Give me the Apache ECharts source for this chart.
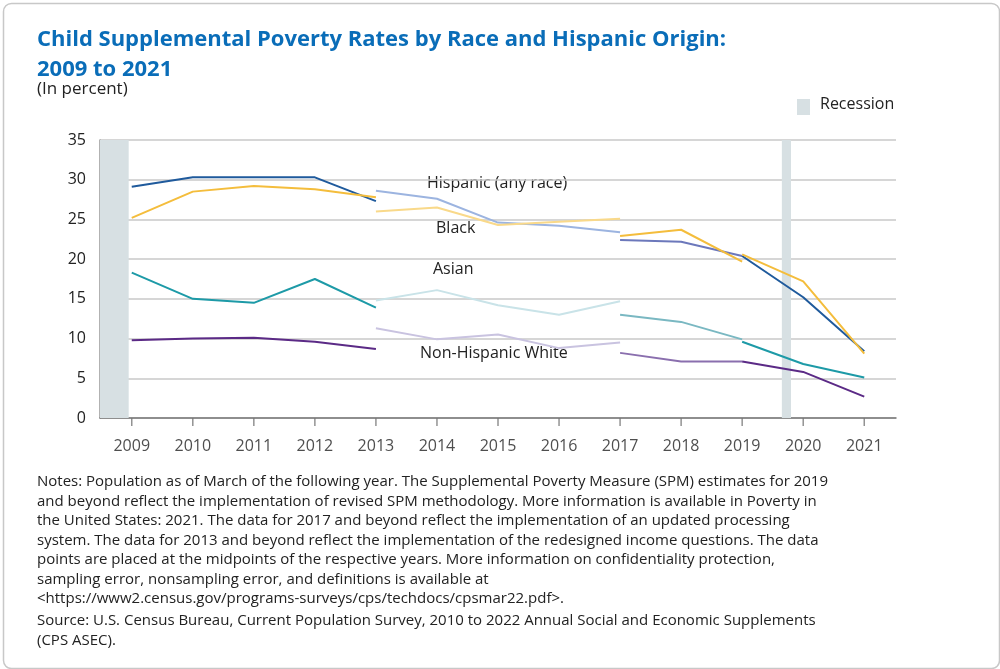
<!DOCTYPE html>
<html><head><meta charset="utf-8">
<script src="https://cdn.jsdelivr.net/npm/echarts@6/dist/echarts.min.js"></script>
<style>
html,body{margin:0;padding:0;background:#fff}
#chart{width:1000px;height:669px}
</style></head>
<body><div id="chart"></div>
<script>
// years of each segment
const yearsA = [2009, 2010, 2011, 2012, 2013];
const yearsB = [2013, 2014, 2015, 2016, 2017];
const yearsC = [2017, 2018, 2019];
const yearsD = [2019, 2020, 2021];
const tickYears = [2009,2010,2011,2012,2013,2014,2015,2016,2017,2018,2019,2020,2021];

const hispA = [29.1, 30.3, 30.3, 30.3, 27.3];
const hispB = [28.6, 27.6, 24.6, 24.2, 23.4];
const hispC = [22.4, 22.2, 20.4];
const hispD = [20.4, 15.2, 8.4];

const blackA = [25.2, 28.5, 29.2, 28.8, 27.8];
const blackB = [26.0, 26.5, 24.3, 24.7, 25.1];
const blackC = [22.9, 23.7, 19.7];
const blackD = [20.6, 17.2, 8.1];

const asianA = [18.3, 15.0, 14.5, 17.5, 13.9];
const asianB = [14.8, 16.1, 14.2, 13.0, 14.7];
const asianC = [13.0, 12.1, 9.9];
const asianD = [9.6, 6.8, 5.1];

const whiteA = [9.8, 10.0, 10.1, 9.6, 8.7];
const whiteB = [11.3, 9.9, 10.5, 8.8, 9.5];
const whiteC = [8.2, 7.1, 7.1];
const whiteD = [7.1, 5.8, 2.7];

const recessions = [[2008.48, 2008.95], [2019.65, 2019.80]];
const FONT = 'Open Sans';

const zip = (xs, ys) => xs.map((x, i) => [x, ys[i]]);
function seg(xs, ys, color, startLbl, endLbl, offset) {
  return {
    type: 'line', data: zip(xs, ys), symbol: 'circle', symbolSize: 0.1, showSymbol: true,
    silent: true, clip: false,
    itemStyle: { color: color, opacity: 0 },
    lineStyle: { color: color, width: 2 },
    label: {
      show: !!(startLbl || endLbl), fontSize: 16, color: '#222', fontFamily: FONT,
      formatter: p => {
        if (startLbl && p.dataIndex === 0) return p.data[1].toFixed(1);
        if (endLbl && p.dataIndex === xs.length - 1) return p.data[1].toFixed(1);
        return '';
      },
      position: endLbl ? 'right' : 'bottom',
      distance: 4,
      offset: offset || [0, 0]
    }
  };
}

const series = [
  seg(yearsA, hispA, '#1f5a9c', true, false, [-6, 2]),
  seg(yearsB, hispB, '#9cb4e0'),
  seg(yearsC, hispC, '#6c78bb'),
  seg(yearsD, hispD, '#1f5a9c', false, true, [0, -2]),
  seg(yearsA, blackA, '#f4bd3c', true, false, [-6, 2]),
  seg(yearsB, blackB, '#f9d98a'),
  seg(yearsC, blackC, '#f4bd3c'),
  seg(yearsD, blackD, '#f4bd3c', false, true, [0, 14]),
  seg(yearsA, asianA, '#1d9aa7', true, false, [-8, 2]),
  seg(yearsB, asianB, '#c9e3e8'),
  seg(yearsC, asianC, '#7ab8c2'),
  seg(yearsD, asianD, '#1d9aa7', false, true, [0, 12]),
  seg(yearsA, whiteA, '#5b2a86', true, false, [-6, 2]),
  seg(yearsB, whiteB, '#c9c3e0'),
  seg(yearsC, whiteC, '#8a6fae'),
  seg(yearsD, whiteD, '#5b2a86', false, true, [0, 6]),
  {
    type: 'line', data: [], silent: true, z: 1,
    markArea: {
      silent: true, itemStyle: { color: '#d7e0e3' },
      data: recessions.map(r => [{ xAxis: r[0] }, { xAxis: r[1] }])
    }
  },
  {
    type: 'scatter', silent: true, symbol: 'rect', symbolSize: [1.5, 8],
    symbolOffset: [0, 4], clip: false,
    itemStyle: { color: '#777' },
    data: tickYears.map(y => [y, 0]),
    label: { show: true, position: 'bottom', distance: 12, fontSize: 16, color: '#222',
      fontFamily: FONT, formatter: p => String(p.data[0]) }
  }
];

const chart = echarts.init(document.getElementById('chart'));
chart.setOption({
  animation: false,
  textStyle: { fontFamily: FONT },
  grid: { left: 100, right: 104, top: 140, bottom: 251 },
  xAxis: {
    type: 'value', min: 2008.48, max: 2021.52,
    axisLine: { lineStyle: { color: '#777', width: 1.5 } },
    axisTick: { show: false },
    splitLine: { show: false },
    axisLabel: { show: false }
  },
  yAxis: {
    type: 'value', min: 0, max: 35, interval: 5,
    axisLine: { show: true, lineStyle: { color: '#999', width: 1.5 } },
    axisTick: { show: false },
    axisLabel: { fontSize: 16, color: '#222', margin: 14, fontFamily: FONT },
    splitLine: { lineStyle: { color: '#c8c8c8', width: 1.5 } }
  },
  series: series,
  graphic: [
    { type: 'rect', left: 1, top: 1, shape: { width: 996, height: 665, r: 8 },
      style: { fill: 'none', stroke: '#c8c8c8', lineWidth: 1.5 } },
    { type: 'text', left: 37, top: 25, style: { text: 'Child Supplemental Poverty Rates by Race and Hispanic Origin:\n2009 to 2021',
      font: 'bold 22px "Open Sans"', fill: '#0a6db8', lineHeight: 30 } },
    { type: 'text', left: 37, top: 81, style: { text: '(In percent)', font: '17px "Open Sans"', fill: '#222' } },
    { type: 'rect', left: 797, top: 99, shape: { width: 13, height: 16 }, style: { fill: '#d7e0e3' } },
    { type: 'text', left: 820, top: 96, style: { text: 'Recession', font: '16px "Open Sans"', fill: '#222' } },
    { type: 'text', left: 427, top: 175, style: { text: 'Hispanic (any race)', font: '16px "Open Sans"', fill: '#222' } },
    { type: 'text', left: 436, top: 220, style: { text: 'Black', font: '16px "Open Sans"', fill: '#222' } },
    { type: 'text', left: 433, top: 261, style: { text: 'Asian', font: '16px "Open Sans"', fill: '#222' } },
    { type: 'text', left: 420, top: 345, style: { text: 'Non-Hispanic White', font: '16px "Open Sans"', fill: '#222' } },
    { type: 'text', left: 37, top: 472, style: {
      text: 'Notes: Population as of March of the following year. The Supplemental Poverty Measure (SPM) estimates for 2019\n' +
        'and beyond reflect the implementation of revised SPM methodology. More information is available in Poverty in\n' +
        'the United States: 2021. The data for 2017 and beyond reflect the implementation of an updated processing\n' +
        'system. The data for 2013 and beyond reflect the implementation of the redesigned income questions. The data\n' +
        'points are placed at the midpoints of the respective years. More information on confidentiality protection,\n' +
        'sampling error, nonsampling error, and definitions is available at\n' +
        '<https://www2.census.gov/programs-surveys/cps/techdocs/cpsmar22.pdf>.',
      font: '15px "Open Sans"', fill: '#222', lineHeight: 19.5 } },
    { type: 'text', left: 37, top: 611, style: {
      text: 'Source: U.S. Census Bureau, Current Population Survey, 2010 to 2022 Annual Social and Economic Supplements\n(CPS ASEC).',
      font: '15px "Open Sans"', fill: '#222', lineHeight: 19.5 } }
  ]
});
</script></body></html>
